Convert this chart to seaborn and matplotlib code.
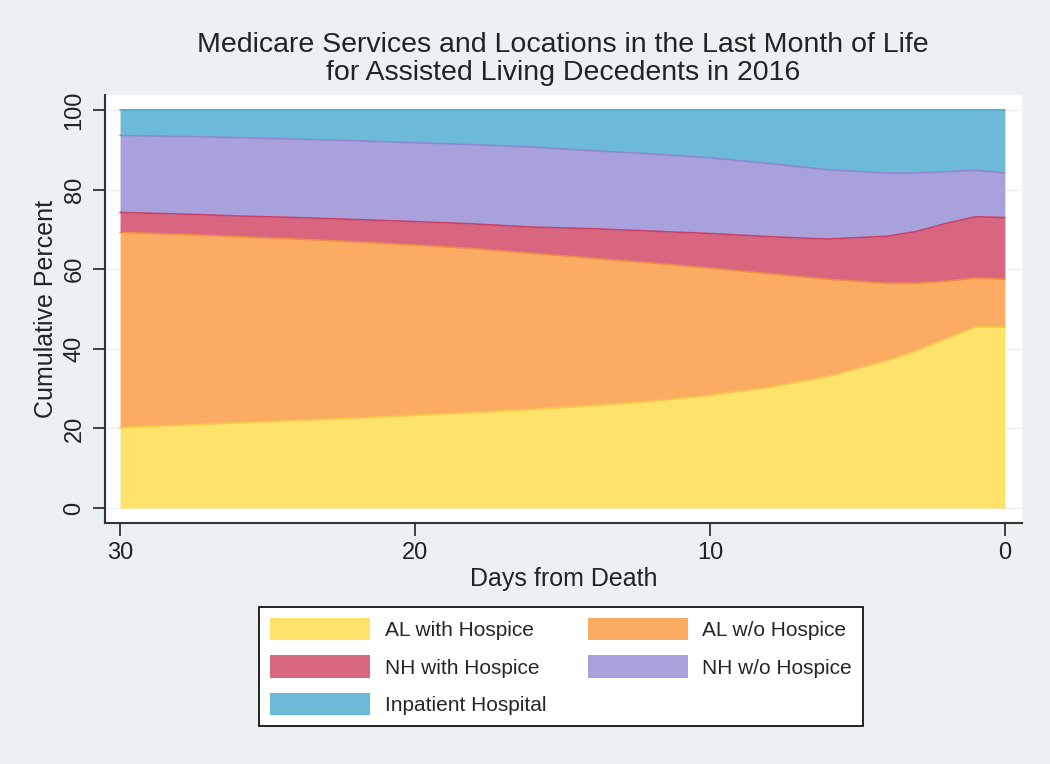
#import libraries
import numpy as np
import pandas as pd
import matplotlib
matplotlib.use("Agg")
import matplotlib.pyplot as plt
import seaborn as sns
from matplotlib.patches import Patch

# data (percent of decedents at each day before death)
days = [30, 28, 26, 24, 22, 20, 18, 16, 14, 12, 10, 8, 6, 4, 3, 2, 1, 0]
al_with_hospice = [20.2, 20.8, 21.4, 22.0, 22.6, 23.3, 24.0, 24.8, 25.7, 26.8, 28.3, 30.3, 33.0, 37.0, 39.5, 42.5, 45.5, 45.5]
al_wo_hospice = [49.1, 48.0, 46.8, 45.6, 44.3, 42.8, 41.2, 39.2, 37.1, 34.8, 32.0, 28.6, 24.5, 19.5, 17.0, 14.5, 12.3, 12.0]
nh_with_hospice = [5.0, 5.1, 5.2, 5.4, 5.6, 5.9, 6.2, 6.6, 7.4, 8.0, 8.7, 9.3, 10.1, 11.8, 13.0, 14.5, 15.4, 15.5]
nh_wo_hospice = [19.3, 19.5, 19.7, 19.7, 19.8, 19.8, 19.9, 20.1, 19.6, 19.4, 19.0, 18.4, 17.4, 15.9, 14.7, 13.0, 11.7, 11.2]
inpatient_hospital = [6.4, 6.6, 6.9, 7.3, 7.7, 8.2, 8.7, 9.3, 10.2, 11.0, 12.0, 13.4, 15.0, 15.8, 15.8, 15.5, 15.1, 15.8]

labels = ['AL with Hospice', 'AL w/o Hospice', 'NH with Hospice', 'NH w/o Hospice', 'Inpatient Hospital']
colors = ['#fee26a', '#fcac62', '#d8667f', '#a9a1dc', '#6cb9d8']
edges = ['#f7c94a', '#ef8c45', '#c8406a', '#8f86cf', '#3fa3c8']

df = pd.DataFrame({'days': days})
for lab, vals in zip(labels, [al_with_hospice, al_wo_hospice, nh_with_hospice, nh_wo_hospice, inpatient_hospital]):
    df[lab] = vals
cum = df[labels].cumsum(axis=1)

sns.set_style('white')
plt.rcParams['font.family'] = ['Liberation Sans', 'DejaVu Sans']
bg = '#eaf0f3'

fig = plt.figure(figsize=(10.5, 7.64), dpi=100, facecolor=bg)
ax = fig.add_axes([0.1, 0.3154, 0.8733, 0.5602])
ax.set_facecolor('white')

# stacked areas
ax.stackplot(df['days'], *[df[l] for l in labels], colors=colors, linewidth=0, zorder=2)

# thin outlines on top of each layer
for lab, ec in zip(labels, edges):
    sns.lineplot(x=df['days'], y=cum[lab], color=ec, linewidth=1.2, ax=ax, zorder=3)

# axes
ax.set_xlim(30.51, -0.58)
ax.set_ylim(-3.77, 103.8)
ax.set_xticks([30, 20, 10, 0])
ax.set_yticks([0, 20, 40, 60, 80, 100])
ax.yaxis.grid(True, color='#eeeeee', linewidth=1, zorder=0)
ax.set_axisbelow(True)
for s in ['top', 'right']:
    ax.spines[s].set_visible(False)
for s in ['left', 'bottom']:
    ax.spines[s].set_color('#333333')
    ax.spines[s].set_linewidth(1.5)
ax.tick_params(axis='both', which='major', direction='out', length=9, width=1.3,
               color='#333333', labelsize=17, labelcolor='#222222', left=True, bottom=True)
ax.tick_params(axis='y', pad=5)
ax.tick_params(axis='x', pad=5)
for t in ax.get_yticklabels():
    t.set_rotation(90)
    t.set_va('center')
ax.set_xlabel('Days from Death', fontsize=18, color='#222222', labelpad=2)
ax.set_ylabel('Cumulative Percent', fontsize=18, color='#222222', labelpad=4)

# title
fig.text(0.536, 1 - 59 / 764,
         'Medicare Services and Locations in the Last Month of Life\nfor Assisted Living Decedents in 2016',
         ha='center', va='center', fontsize=20.5, color='#222222', linespacing=1.08)

# legend (row order like the original)
order = [0, 2, 4, 1, 3]
handles = [Patch(facecolor=colors[i], edgecolor='none', label=labels[i]) for i in order]
leg = fig.legend(handles=handles, ncol=2, loc='upper center', bbox_to_anchor=(561 / 1050, 1 - 607 / 764),
                 fontsize=15, frameon=True, fancybox=False, edgecolor='black', facecolor='white',
                 handlelength=4.8, handleheight=1.25, handletextpad=0.7, columnspacing=2.0,
                 labelspacing=0.72, borderpad=0.55, borderaxespad=0, framealpha=1)
leg.get_frame().set_linewidth(1.2)

fig.savefig('out.png', dpi=100, facecolor=bg)
